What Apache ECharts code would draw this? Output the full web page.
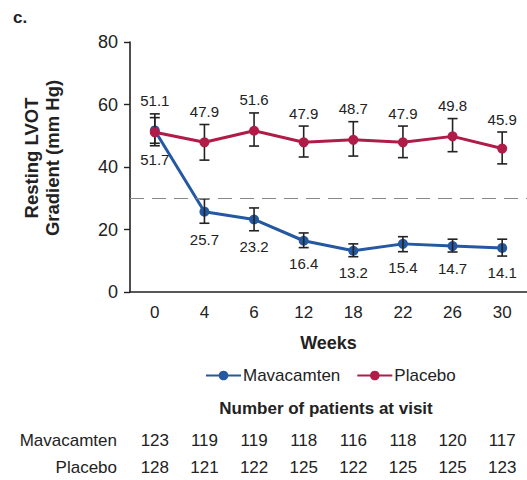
<!DOCTYPE html>
<html><head><meta charset="utf-8">
<script src="https://cdn.jsdelivr.net/npm/echarts@6/dist/echarts.min.js"></script>
<style>html,body{margin:0;padding:0;background:#fff}#c{width:527px;height:480px}</style>
</head><body><div id="c"></div>
<script>
const weeks = ['0','4','6','12','18','22','26','30'];
const mavaMean = [51.7, 25.7, 23.2, 16.4, 13.2, 15.4, 14.7, 14.1];
const mavaLow  = [47.6, 22.0, 19.6, 14.2, 11.3, 12.9, 12.8, 11.5];
const mavaHigh = [55.8, 29.8, 26.9, 18.9, 15.4, 17.7, 16.9, 16.9];
const placMean = [51.1, 47.9, 51.6, 47.9, 48.7, 47.9, 49.8, 45.9];
const placLow  = [46.8, 42.2, 46.7, 43.2, 43.5, 43.0, 44.9, 41.0];
const placHigh = [57.0, 53.6, 57.3, 53.1, 54.5, 53.1, 55.5, 51.2];
const mavaN = ['123','119','119','118','116','118','120','117'];
const placN = ['128','121','122','125','122','125','125','123'];
const yTicks = [0, 20, 40, 60, 80];
const threshold = 30;

const BLUE = '#2458a0', RED = '#b01c48', INK = '#222';
const FONT = 'Liberation Sans, Arial, Helvetica, sans-serif';

function errData(mean, low, high){
  return mean.map((m,i)=>[i, low[i], high[i], m]);
}
function errRender(labelSide){
  return function(params, api){
    const x = api.value(0);
    const lo = api.coord([x, api.value(1)]);
    const hi = api.coord([x, api.value(2)]);
    const cap = 5;
    const st = {stroke: INK, lineWidth: 1.6};
    const children = [
      {type:'line', shape:{x1:lo[0], y1:lo[1], x2:hi[0], y2:hi[1]}, style:st},
      {type:'line', shape:{x1:lo[0]-cap, y1:lo[1], x2:lo[0]+cap, y2:lo[1]}, style:st},
      {type:'line', shape:{x1:hi[0]-cap, y1:hi[1], x2:hi[0]+cap, y2:hi[1]}, style:st}
    ];
    const txt = api.value(3).toFixed(1);
    const ty = labelSide === 'top' ? hi[1] - 13 : lo[1] + 16;
    children.push({type:'text', style:{text: txt, x: hi[0], y: ty, align:'center', verticalAlign:'middle',
      fill: INK, font: '15px ' + FONT}});
    return {type:'group', children};
  };
}

const chart = echarts.init(document.getElementById('c'), null, {renderer:'svg'});
chart.setOption({
  animation:false,
  textStyle:{fontFamily: FONT, color: INK},
  grid:{left:130, right:0, top:42, bottom:188, containLabel:false},
  legend:{
    left:200, top:362, itemWidth:35, itemHeight:12, itemGap:16,
    textStyle:{fontSize:17, color:INK, padding:[0,0,0,-3]},
    data:['Mavacamten','Placebo']
  },
  graphic:[
    {type:'text', left:13, top:9, style:{text:'c.', font:'bold 17px ' + FONT, fill:INK}},
    {type:'text', x:326, y:408, style:{text:'Number of patients at visit', font:'bold 17px ' + FONT, fill:INK, align:'center', verticalAlign:'middle'}}
  ],
  xAxis:[
    {type:'category', data:weeks, boundaryGap:true,
     axisLine:{lineStyle:{color:INK, width:1.6}},
     axisTick:{alignWithLabel:true, length:6, lineStyle:{color:INK, width:1.4}},
     axisLabel:{fontSize:17, color:INK, margin:12},
     name:'Weeks', nameLocation:'middle', nameGap:42,
     nameTextStyle:{fontSize:18, fontWeight:'bold', color:INK}},
    {type:'category', data:mavaN, position:'bottom', offset:148, boundaryGap:true,
     axisLine:{show:false}, axisTick:{show:false},
     axisLabel:{fontSize:17, color:INK, margin:0, verticalAlign:'middle'},
     name:'Mavacamten', nameLocation:'start', nameGap:13, nameTextStyle:{fontSize:17, color:INK}},
    {type:'category', data:placN, position:'bottom', offset:175, boundaryGap:true,
     axisLine:{show:false}, axisTick:{show:false},
     axisLabel:{fontSize:17, color:INK, margin:0, verticalAlign:'middle'},
     name:'Placebo', nameLocation:'start', nameGap:13, nameTextStyle:{fontSize:17, color:INK}}
  ],
  yAxis:{
    type:'value', min:yTicks[0], max:yTicks[yTicks.length-1], interval:20,
    axisLine:{show:true, lineStyle:{color:INK, width:1.6}},
    axisTick:{show:true, length:6, lineStyle:{color:INK, width:1.4}},
    splitLine:{show:false},
    axisLabel:{fontSize:18, color:INK, margin:12},
    name:'Resting LVOT\nGradient (mm Hg)', nameLocation:'middle', nameRotate:90, nameGap:67,
    nameTextStyle:{fontSize:18.5, fontWeight:'bold', color:INK, lineHeight:21, align:'center', padding:[0,0,0,18]}
  },
  series:[
    {type:'custom', name:'errPlac', renderItem:errRender('top'), data:errData(placMean, placLow, placHigh), z:3, xAxisIndex:0},
    {type:'custom', name:'errMava', renderItem:errRender('bottom'), data:errData(mavaMean, mavaLow, mavaHigh), z:3, xAxisIndex:0},
    {type:'line', name:'Mavacamten', data:mavaMean, xAxisIndex:0, symbol:'circle', symbolSize:10,
     lineStyle:{color:BLUE, width:3}, itemStyle:{color:BLUE}, z:2,
     markLine:{silent:true, symbol:'none', label:{show:false},
       lineStyle:{color:'#888', type:[14,8], width:1.2},
       data:[{yAxis:threshold}]}},
    {type:'line', name:'Placebo', data:placMean, xAxisIndex:0, symbol:'circle', symbolSize:10,
     lineStyle:{color:RED, width:3}, itemStyle:{color:RED}, z:4}
  ]
});
</script></body></html>
